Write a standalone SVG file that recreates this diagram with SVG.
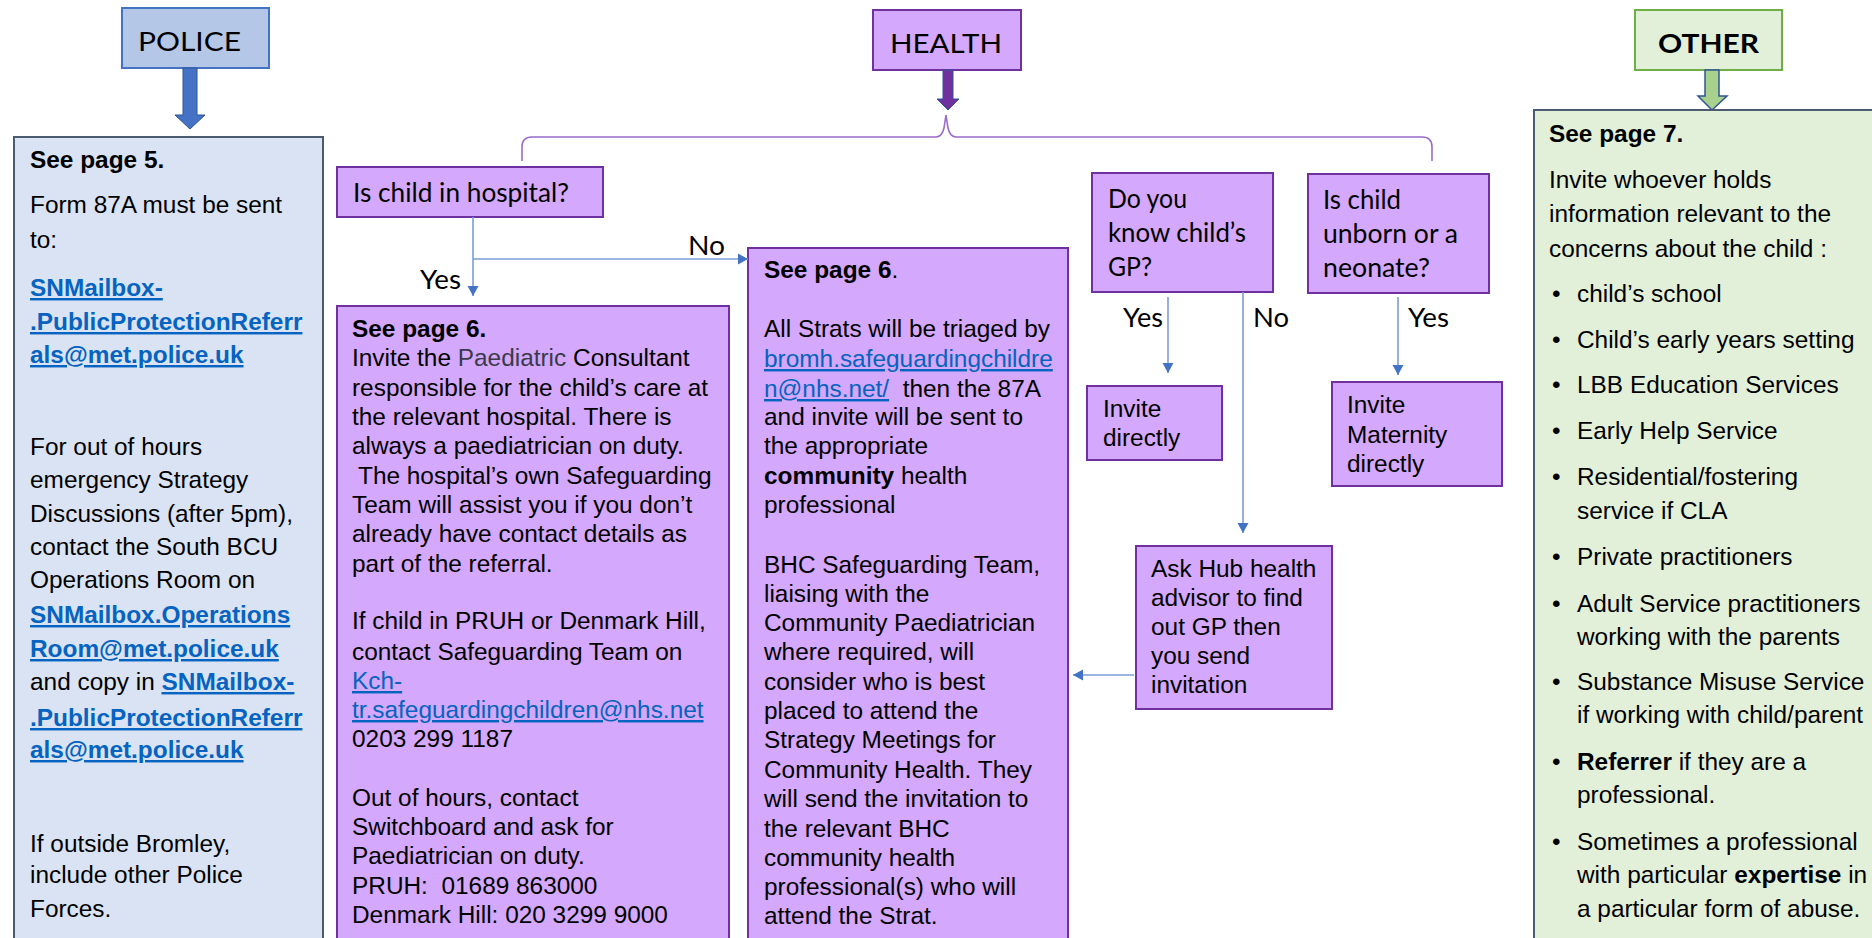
<svg xmlns="http://www.w3.org/2000/svg" width="1872" height="938" viewBox="0 0 1872 938">
<defs>
<marker id="ah" markerUnits="userSpaceOnUse" markerWidth="11" markerHeight="12" refX="10" refY="6" orient="auto">
<path d="M0,0.5 L10,6 L0,11.5 z" fill="#4472C4"/>
</marker>
<style>
.a{font-family:"Liberation Sans",Arial,sans-serif;font-size:24.4px;fill:#000}
.c{font-family:Lato,"Liberation Sans",sans-serif;font-size:26.5px;fill:#000}
.b{font-weight:bold}
.lk{fill:#0563C1;text-decoration:underline}
.pb{fill:#D4A8FC;stroke:#7030A0;stroke-width:2}
.con{fill:none;stroke:#7A9CDA;stroke-width:1.6}
</style>
</defs>
<rect width="1872" height="938" fill="#fff"/>

<g id="police-header">
<rect x="122" y="8" width="147" height="60" fill="#B4C7E7" stroke="#4472C4" stroke-width="2"/>
<text class="c" x="138" y="51" font-size="34.5" textLength="103" lengthAdjust="spacingAndGlyphs">POLICE</text>
<path d="M183,68 H197 V115 H205 L190,129 L175,115 H183 Z" fill="#4472C4" stroke="#2F5597" stroke-width="1"/>
</g>

<g id="health-header">
<rect x="873" y="10" width="148" height="60" fill="#D4A8FC" stroke="#7030A0" stroke-width="2"/>
<text class="c" x="890" y="53" font-size="34.5" textLength="112" lengthAdjust="spacingAndGlyphs">HEALTH</text>
<path d="M943,70 H953 V99 H959 L948,110 L937,99 H943 Z" fill="#7030A0" stroke="#2F5597" stroke-width="1"/>
</g>

<g id="other-header">
<rect x="1635" y="10" width="147" height="60" fill="#E2F0D9" stroke="#70AD47" stroke-width="2"/>
<text class="c b" x="1658" y="53" font-size="34.5" textLength="101" lengthAdjust="spacingAndGlyphs">OTHER</text>
<path d="M1705,70 H1719 V96 H1727 L1712,110 L1698,96 H1705 Z" fill="#A9D18E" stroke="#2F5597" stroke-width="1.5"/>
</g>

<g id="police-box">
<rect x="14" y="137" width="309" height="810" fill="#DAE3F3" stroke="#4D5B70" stroke-width="2"/>
<text class="a"><tspan class="b" x="30" y="168">See page 5.</tspan>
<tspan x="30" y="213">Form 87A must be sent</tspan>
<tspan x="30" y="248">to:</tspan>
<tspan class="b lk" x="30" y="296">SNMailbox-</tspan>
<tspan class="b lk" x="30" y="330">.PublicProtectionReferr</tspan>
<tspan class="b lk" x="30" y="363">als@met.police.uk</tspan>
<tspan x="30" y="455">For out of hours</tspan>
<tspan x="30" y="488">emergency Strategy</tspan>
<tspan x="30" y="522">Discussions (after 5pm),</tspan>
<tspan x="30" y="555">contact the South BCU</tspan>
<tspan x="30" y="588">Operations Room on</tspan>
<tspan class="b lk" x="30" y="623">SNMailbox.Operations</tspan>
<tspan class="b lk" x="30" y="657">Room@met.police.uk</tspan>
<tspan x="30" y="690">and copy in </tspan><tspan class="b lk">SNMailbox-</tspan>
<tspan class="b lk" x="30" y="726">.PublicProtectionReferr</tspan>
<tspan class="b lk" x="30" y="758">als@met.police.uk</tspan>
<tspan x="30" y="852">If outside Bromley,</tspan>
<tspan x="30" y="883">include other Police</tspan>
<tspan x="30" y="917">Forces.</tspan></text>
</g>

<g id="hospital-question">
<rect class="pb" x="337" y="167" width="266" height="50"/>
<text class="c" x="353" y="202" textLength="216" lengthAdjust="spacingAndGlyphs">Is child in hospital?</text>
</g>

<g id="hospital-box">
<rect class="pb" x="337" y="306" width="392" height="640"/>
<text class="a"><tspan class="b" x="352" y="337">See page 6.</tspan>
<tspan x="352" y="366">Invite the </tspan><tspan fill="#3A3A4A">Paediatric</tspan><tspan> Consultant</tspan>
<tspan x="352" y="396">responsible for the child’s care at</tspan>
<tspan x="352" y="425">the relevant hospital. There is</tspan>
<tspan x="352" y="454">always a paediatrician on duty.</tspan>
<tspan x="358" y="484">The hospital’s own Safeguarding</tspan>
<tspan x="352" y="513">Team will assist you if you don’t</tspan>
<tspan x="352" y="542">already have contact details as</tspan>
<tspan x="352" y="572">part of the referral.</tspan>
<tspan x="352" y="629">If child in PRUH or Denmark Hill,</tspan>
<tspan x="352" y="660">contact Safeguarding Team on</tspan>
<tspan class="lk" x="352" y="689">Kch-</tspan>
<tspan class="lk" x="352" y="718">tr.safeguardingchildren@nhs.net</tspan>
<tspan x="352" y="747">0203 299 1187</tspan>
<tspan x="352" y="806">Out of hours, contact</tspan>
<tspan x="352" y="835">Switchboard and ask for</tspan>
<tspan x="352" y="864">Paediatrician on duty.</tspan>
<tspan x="352" y="894" xml:space="preserve">PRUH:  01689 863000</tspan>
<tspan x="352" y="923">Denmark Hill: 020 3299 9000</tspan></text>
</g>

<g id="community-box">
<rect class="pb" x="748" y="248" width="320" height="700"/>
<text class="a"><tspan class="b" x="764" y="278">See page 6</tspan><tspan>.</tspan>
<tspan x="764" y="337">All Strats will be triaged by</tspan>
<tspan class="lk" x="764" y="367">bromh.safeguardingchildre</tspan>
<tspan class="lk" x="764" y="397">n@nhs.net/</tspan><tspan xml:space="preserve">  then the 87A</tspan>
<tspan x="764" y="425">and invite will be sent to</tspan>
<tspan x="764" y="454">the appropriate</tspan>
<tspan class="b" x="764" y="484">community</tspan><tspan> health</tspan>
<tspan x="764" y="513">professional</tspan>
<tspan x="764" y="573">BHC Safeguarding Team,</tspan>
<tspan x="764" y="602">liaising with the</tspan>
<tspan x="764" y="631">Community Paediatrician</tspan>
<tspan x="764" y="660">where required, will</tspan>
<tspan x="764" y="690">consider who is best</tspan>
<tspan x="764" y="719">placed to attend the</tspan>
<tspan x="764" y="748">Strategy Meetings for</tspan>
<tspan x="764" y="778">Community Health. They</tspan>
<tspan x="764" y="807">will send the invitation to</tspan>
<tspan x="764" y="837">the relevant BHC</tspan>
<tspan x="764" y="866">community health</tspan>
<tspan x="764" y="895">professional(s) who will</tspan>
<tspan x="764" y="924">attend the Strat.</tspan></text>
</g>

<g id="gp-question">
<rect class="pb" x="1092" y="173" width="181" height="119"/>
<text class="c"><tspan x="1108" y="208" textLength="79" lengthAdjust="spacingAndGlyphs">Do you</tspan></text>
<text class="c"><tspan x="1108" y="242" textLength="138" lengthAdjust="spacingAndGlyphs">know child’s</tspan></text>
<text class="c"><tspan x="1108" y="276" textLength="44" lengthAdjust="spacingAndGlyphs">GP?</tspan></text>
</g>

<g id="unborn-question">
<rect class="pb" x="1308" y="174" width="181" height="119"/>
<text class="c"><tspan x="1323" y="209" textLength="78" lengthAdjust="spacingAndGlyphs">Is child</tspan></text>
<text class="c"><tspan x="1323" y="243" textLength="135" lengthAdjust="spacingAndGlyphs">unborn or a</tspan></text>
<text class="c"><tspan x="1323" y="277" textLength="107" lengthAdjust="spacingAndGlyphs">neonate?</tspan></text>
</g>

<g id="invite-directly">
<rect class="pb" x="1087" y="386" width="135" height="74"/>
<text class="a"><tspan x="1103" y="417">Invite</tspan><tspan x="1103" y="446">directly</tspan></text>
</g>

<g id="invite-maternity">
<rect class="pb" x="1332" y="382" width="170" height="104"/>
<text class="a"><tspan x="1347" y="413">Invite</tspan><tspan x="1347" y="443">Maternity</tspan><tspan x="1347" y="472">directly</tspan></text>
</g>

<g id="ask-hub">
<rect class="pb" x="1136" y="546" width="196" height="163"/>
<text class="a"><tspan x="1151" y="577">Ask Hub health</tspan><tspan x="1151" y="606">advisor to find</tspan><tspan x="1151" y="635">out GP then</tspan><tspan x="1151" y="664">you send</tspan><tspan x="1151" y="693">invitation</tspan></text>
</g>

<g id="other-box">
<rect x="1534" y="110" width="350" height="840" fill="#E2F0D9" stroke="#4D5B70" stroke-width="2"/>
<text class="a"><tspan class="b" x="1549" y="142">See page 7.</tspan>
<tspan x="1549" y="188">Invite whoever holds</tspan>
<tspan x="1549" y="222">information relevant to the</tspan>
<tspan x="1549" y="257">concerns about the child :</tspan></text>
<text class="a">
<tspan x="1552" y="302">•</tspan><tspan x="1577">child’s school</tspan>
<tspan x="1552" y="348">•</tspan><tspan x="1577">Child’s early years setting</tspan>
<tspan x="1552" y="393">•</tspan><tspan x="1577">LBB Education Services</tspan>
<tspan x="1552" y="439">•</tspan><tspan x="1577">Early Help Service</tspan>
<tspan x="1552" y="485">•</tspan><tspan x="1577">Residential/fostering</tspan>
<tspan x="1577" y="519">service if CLA</tspan>
<tspan x="1552" y="565">•</tspan><tspan x="1577">Private practitioners</tspan>
<tspan x="1552" y="612">•</tspan><tspan x="1577">Adult Service practitioners</tspan>
<tspan x="1577" y="645">working with the parents</tspan>
<tspan x="1552" y="690">•</tspan><tspan x="1577">Substance Misuse Service</tspan>
<tspan x="1577" y="723">if working with child/parent</tspan>
<tspan x="1552" y="770">•</tspan><tspan class="b" x="1577">Referrer</tspan><tspan> if they are a</tspan>
<tspan x="1577" y="803">professional.</tspan>
<tspan x="1552" y="850">•</tspan><tspan x="1577">Sometimes a professional</tspan>
<tspan x="1577" y="883">with particular </tspan><tspan class="b">expertise</tspan><tspan> in</tspan>
<tspan x="1577" y="917">a particular form of abuse.</tspan></text>
</g>

<g id="connectors">
<path d="M522,161 V147 Q522,137 532,137 H936 Q942,137 944,128 L946,115 L948,128 Q950,137 956,137 H1422 Q1432,137 1432,147 V161" fill="none" stroke="#9B6BC9" stroke-width="1.6"/>
<line class="con" x1="473" y1="217" x2="473" y2="296" marker-end="url(#ah)"/>
<line class="con" x1="473" y1="259" x2="748" y2="259" marker-end="url(#ah)"/>
<line class="con" x1="1168" y1="297" x2="1168" y2="373" marker-end="url(#ah)"/>
<line class="con" x1="1243" y1="292" x2="1243" y2="533" marker-end="url(#ah)"/>
<line class="con" x1="1398" y1="297" x2="1398" y2="375" marker-end="url(#ah)"/>
<line class="con" x1="1134" y1="675" x2="1073" y2="675" marker-end="url(#ah)"/>
<text class="c" x="420" y="289" textLength="41" lengthAdjust="spacingAndGlyphs">Yes</text>
<text class="c" x="688" y="255" textLength="37" lengthAdjust="spacingAndGlyphs">No</text>
<text class="c" x="1123" y="327" textLength="40" lengthAdjust="spacingAndGlyphs">Yes</text>
<text class="c" x="1253" y="327" textLength="36" lengthAdjust="spacingAndGlyphs">No</text>
<text class="c" x="1408" y="327" textLength="41" lengthAdjust="spacingAndGlyphs">Yes</text>
</g>
</svg>
